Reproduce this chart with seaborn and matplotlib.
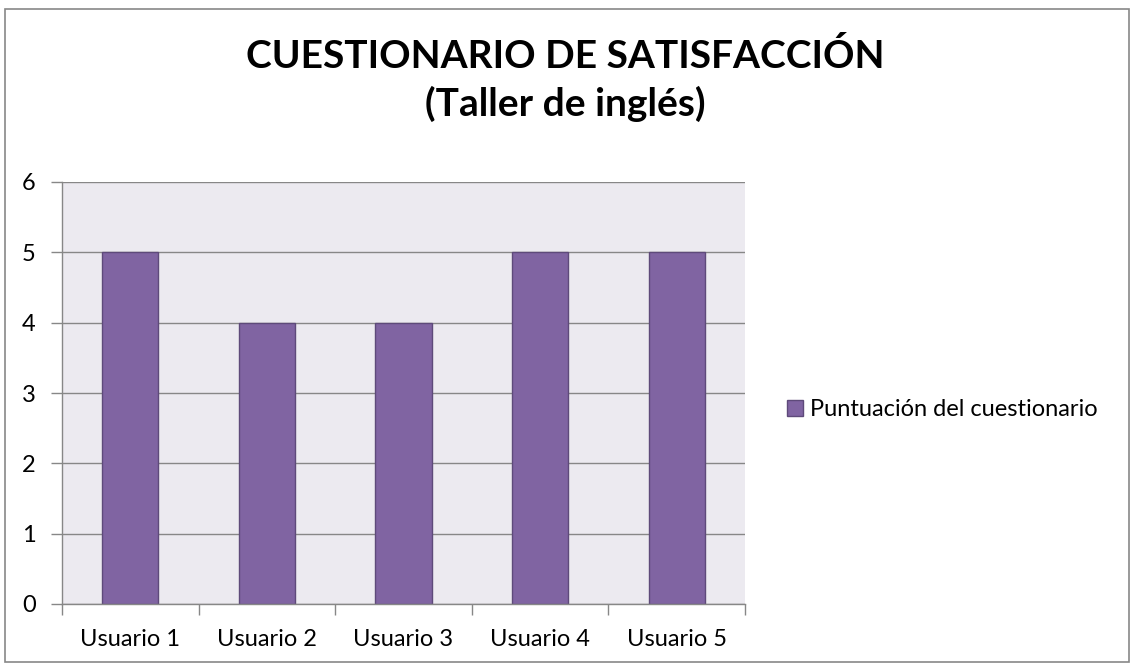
import matplotlib
matplotlib.use('agg')
import matplotlib.pyplot as plt
import matplotlib.patches as mpatches
import seaborn as sns
import pandas as pd

# data
usuarios = ['Usuario 1', 'Usuario 2', 'Usuario 3', 'Usuario 4', 'Usuario 5']
puntuacion = [5, 4, 4, 5, 5]
serie = 'Puntuación del cuestionario'

df = pd.DataFrame({'usuario': usuarios, 'puntuacion': puntuacion})

sns.set_style('white')
plt.rcParams['font.family'] = ['Lato', 'DejaVu Sans']
plt.rcParams['text.color'] = 'black'

fig = plt.figure(figsize=(11.31, 6.63), dpi=100)
ax = fig.add_axes([62/1131, 59/663, 683/1131, 422/663])

sns.barplot(data=df, x='usuario', y='puntuacion', color='#8064A2',
            saturation=1, width=0.41, edgecolor='#5E4A7A', linewidth=1, ax=ax)

ax.set_facecolor('#ECEAF0')
ax.set_ylim(0, 6)
ax.set_xlim(-0.5, 4.5)
ax.set_yticks(range(0, 7))
ax.yaxis.grid(True, color='#878787', lw=1)
ax.set_axisbelow(True)
ax.set_xlabel('')
ax.set_ylabel('')
for s in ['top', 'right']:
    ax.spines[s].set_visible(False)
for s in ['left', 'bottom']:
    ax.spines[s].set_color('#878787')
    ax.spines[s].set_linewidth(1)

# x ticks at category boundaries (excel style), labels centered
ax.set_xticks([i - 0.5 for i in range(6)], minor=False)
ax.set_xticklabels([])
ax.set_xticks(range(5), minor=True)
ax.set_xticklabels(usuarios, minor=True)
ax.tick_params(axis='x', which='major', bottom=True, length=8, color='#878787',
               width=1, direction='out')
ax.tick_params(axis='x', which='minor', bottom=True, length=0, labelsize=17, pad=18,
               labelcolor='black')
ax.tick_params(axis='y', left=True, length=8, color='#878787', width=1, direction='out',
               labelsize=17, pad=11, labelcolor='black')

fig.text(0.5, 0.915, 'CUESTIONARIO DE SATISFACCIÓN', ha='center', va='center',
         fontsize=28, fontweight='bold')
fig.text(0.5, 0.843, '(Taller de inglés)', ha='center', va='center',
         fontsize=28, fontweight='bold')

handle = mpatches.Patch(facecolor='#8064A2', edgecolor='#5E4A7A', label=serie)
fig.legend(handles=[handle], loc='center left', bbox_to_anchor=(766/1131, 1 - 410/663),
           frameon=False, fontsize=17, handlelength=0.65, handleheight=0.65,
           handletextpad=0.3)

# outer border
border = mpatches.Rectangle((5/1131, 0.002), 1124/1131, 1 - 9/663 - 0.002,
                            transform=fig.transFigure, fill=False,
                            edgecolor='#878787', lw=1.2)
fig.patches.append(border)

fig.savefig('out.png', dpi=100)
